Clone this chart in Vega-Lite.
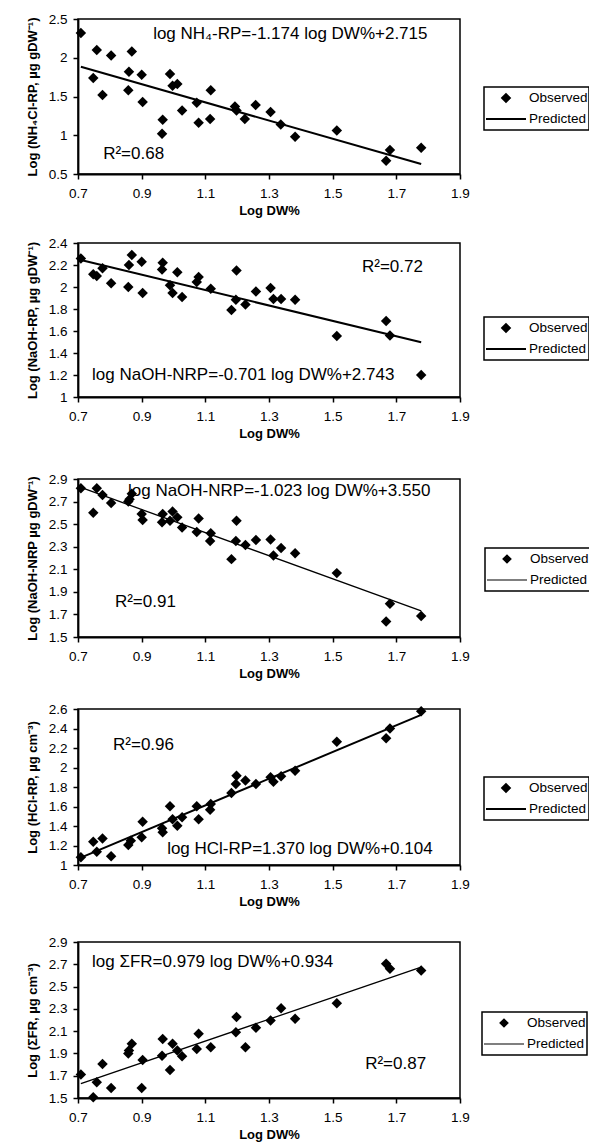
{
  "$schema": "https://vega.github.io/schema/vega-lite/v6.json",
  "background": "white",
  "padding": {"left": 25, "top": 11, "right": 0, "bottom": 0},
  "config": {
    "font": "Liberation Sans",
    "view": {"stroke": "black", "strokeWidth": 1.5},
    "axis": {
      "grid": false, "domainColor": "black", "domainWidth": 1.8, "tickColor": "black", "tickWidth": 1.5, "tickSize": 5,
      "labelColor": "black", "labelFont": "Liberation Sans", "labelFontSize": 13.5, "labelFlush": false, "labelOverlap": false,
      "titleColor": "black", "titleFont": "Liberation Sans", "titleFontSize": 13, "titleFontWeight": "bold"
    },
    "axisX": {"labelPadding": 7, "titlePadding": 5},
    "axisY": {"labelPadding": 6, "titlePadding": 9},
    "legend": {
      "orient": "none", "strokeColor": "black", "strokeWidth": 1.5, "fillColor": "white", "padding": 1,
      "labelFont": "Liberation Sans", "labelFontSize": 13.5, "labelColor": "black", "labelOffset": 2,
      "symbolSize": 1600, "clipHeight": 20, "rowPadding": 1, "symbolFillColor": "black", "symbolStrokeColor": "black", "symbolStrokeWidth": 1.5
    },
    "text": {"font": "Liberation Sans", "fontSize": 17, "color": "black"}
  },
  "spacing": 16,
  "resolve": {"scale": {"shape": "independent"}, "legend": {"shape": "independent"}},
  "vconcat": [
    {
      "width": 382, "height": 155,
      "layer": [
        {
          "data": {"values": [
            {"x":0.709,"y":2.32},{"x":0.748,"y":1.74},{"x":0.759,"y":2.10},{"x":0.777,"y":1.52},{"x":0.804,"y":2.03},{"x":0.858,"y":1.58},{"x":0.860,"y":1.82},{"x":0.869,"y":2.08},{"x":0.900,"y":1.78},{"x":0.903,"y":1.43},{"x":0.964,"y":1.02},{"x":0.966,"y":1.20},{"x":0.989,"y":1.79},{"x":0.997,"y":1.64},{"x":1.012,"y":1.66},{"x":1.027,"y":1.32},{"x":1.073,"y":1.42},{"x":1.079,"y":1.16},{"x":1.115,"y":1.21},{"x":1.117,"y":1.58},{"x":1.193,"y":1.37},{"x":1.198,"y":1.32},{"x":1.224,"y":1.21},{"x":1.258,"y":1.39},{"x":1.305,"y":1.30},{"x":1.337,"y":1.14},{"x":1.382,"y":0.98},{"x":1.513,"y":1.06},{"x":1.668,"y":0.67},{"x":1.680,"y":0.81},{"x":1.778,"y":0.84}
          ]},
          "mark": {"type": "point", "shape": "diamond", "filled": true, "color": "black", "size": 110, "opacity": 1},
          "encoding": {
            "x": {"field": "x", "type": "quantitative", "scale": {"domain": [0.7, 1.9], "nice": false, "zero": false},
                  "axis": {"title": "Log DW%", "labelOverlap": false, "tickCount": 30, "values": [0.7,0.9,1.1,1.3,1.5,1.7,1.9], "labelExpr": "format(datum.value, '.1f')"}},
            "y": {"field": "y", "type": "quantitative", "scale": {"domain": [0.5, 2.5], "nice": false, "zero": false},
                  "axis": {"title": "Log (NH₄Cl-RP, µg gDW⁻¹)", "labelOverlap": false, "tickCount": 30, "values": [0.5,1,1.5,2,2.5], "labelExpr": "'' + datum.value"}}
          }
        },
        {
          "data": {"values": []},
          "mark": {"type": "point", "filled": true, "color": "black", "stroke": "black", "opacity": 1},
          "encoding": {
            "shape": {"datum": "Observed", "type": "nominal", "scale": {"domain": ["Observed", "Predicted"], "range": ["M-0.2,0L0,-0.2L0.2,0L0,0.2Z", "stroke"]},
                      "legend": {"title": null, "legendX": 406, "legendY": 68,
                                 "encoding": {"symbols": {"stroke": {"value": "black"}, "strokeWidth": {"value": 1.8}}}}}
          }
        },
        {
          "data": {"values": [{"x":0.709,"y":1.883},{"x":1.778,"y":0.628}]},
          "mark": {"type": "line", "color": "black", "strokeWidth": 2},
          "encoding": {"x": {"field": "x", "type": "quantitative"}, "y": {"field": "y", "type": "quantitative"}}
        },
        {
          "data": {"values": [{"label": "log NH₄-RP=-1.174 log DW%+2.715"}]},
          "mark": {"type": "text", "align": "left", "baseline": "middle"},
          "encoding": {"text": {"field": "label"}, "x": {"datum": 0.936, "type": "quantitative"}, "y": {"datum": 2.31, "type": "quantitative"}}
        },
        {
          "data": {"values": [{"label": "R²=0.68"}]},
          "mark": {"type": "text", "align": "left", "baseline": "middle"},
          "encoding": {"text": {"field": "label"}, "x": {"datum": 0.779, "type": "quantitative"}, "y": {"datum": 0.762, "type": "quantitative"}}
        }
      ]
    },
    {
      "spacing": 29,
      "resolve": {"scale": {"shape": "independent"}, "legend": {"shape": "independent"}},
      "vconcat": [
        {
          "width": 382, "height": 154,
          "layer": [
            {
              "data": {"values": [
                {"x":0.709,"y":2.26},{"x":0.748,"y":2.115},{"x":0.759,"y":2.10},{"x":0.777,"y":2.17},{"x":0.804,"y":2.035},{"x":0.858,"y":2.00},{"x":0.860,"y":2.20},{"x":0.869,"y":2.29},{"x":0.900,"y":2.23},{"x":0.903,"y":1.945},{"x":0.964,"y":2.16},{"x":0.966,"y":2.22},{"x":0.989,"y":2.015},{"x":0.997,"y":1.945},{"x":1.012,"y":2.135},{"x":1.027,"y":1.91},{"x":1.073,"y":2.045},{"x":1.079,"y":2.09},{"x":1.117,"y":1.985},{"x":1.182,"y":1.79},{"x":1.196,"y":1.885},{"x":1.198,"y":2.15},{"x":1.226,"y":1.84},{"x":1.259,"y":1.96},{"x":1.305,"y":1.99},{"x":1.314,"y":1.89},{"x":1.338,"y":1.89},{"x":1.382,"y":1.885},{"x":1.513,"y":1.555},{"x":1.668,"y":1.69},{"x":1.680,"y":1.56},{"x":1.778,"y":1.20}
              ]},
              "mark": {"type": "point", "shape": "diamond", "filled": true, "color": "black", "size": 110, "opacity": 1},
              "encoding": {
                "x": {"field": "x", "type": "quantitative", "scale": {"domain": [0.7, 1.9], "nice": false, "zero": false},
                      "axis": {"title": "Log DW%", "labelOverlap": false, "tickCount": 30, "values": [0.7,0.9,1.1,1.3,1.5,1.7,1.9], "labelExpr": "format(datum.value, '.1f')"}},
                "y": {"field": "y", "type": "quantitative", "scale": {"domain": [1, 2.4], "nice": false, "zero": false},
                      "axis": {"title": "Log (NaOH-RP, µg gDW⁻¹)", "labelOverlap": false, "tickCount": 30, "values": [1,1.2,1.4,1.6,1.8,2,2.2,2.4], "labelExpr": "'' + datum.value"}}
              }
            },
            {
              "data": {"values": []},
              "mark": {"type": "point", "filled": true, "color": "black", "stroke": "black", "opacity": 1},
              "encoding": {
                "shape": {"datum": "Observed", "type": "nominal", "scale": {"domain": ["Observed", "Predicted"], "range": ["M-0.2,0L0,-0.2L0.2,0L0,0.2Z", "stroke"]},
                          "legend": {"title": null, "legendX": 406, "legendY": 74,
                                     "encoding": {"symbols": {"stroke": {"value": "black"}, "strokeWidth": {"value": 1.8}}}}}
              }
            },
            {
              "data": {"values": [{"x":0.709,"y":2.246},{"x":1.778,"y":1.497}]},
              "mark": {"type": "line", "color": "black", "strokeWidth": 2},
              "encoding": {"x": {"field": "x", "type": "quantitative"}, "y": {"field": "y", "type": "quantitative"}}
            },
            {
              "data": {"values": [{"label": "R²=0.72"}]},
              "mark": {"type": "text", "align": "left", "baseline": "middle"},
              "encoding": {"text": {"field": "label"}, "x": {"datum": 1.592, "type": "quantitative"}, "y": {"datum": 2.179, "type": "quantitative"}}
            },
            {
              "data": {"values": [{"label": "log NaOH-NRP=-0.701 log DW%+2.743"}]},
              "mark": {"type": "text", "align": "left", "baseline": "middle"},
              "encoding": {"text": {"field": "label"}, "x": {"datum": 0.744, "type": "quantitative"}, "y": {"datum": 1.197, "type": "quantitative"}}
            }
          ]
        },
        {
          "spacing": 19,
          "resolve": {"scale": {"shape": "independent"}, "legend": {"shape": "independent"}},
          "vconcat": [
            {
              "width": 382, "height": 158,
              "layer": [
                {
                  "data": {"values": [
                    {"x":0.709,"y":2.817},{"x":0.748,"y":2.60},{"x":0.759,"y":2.817},{"x":0.777,"y":2.758},{"x":0.804,"y":2.688},{"x":0.858,"y":2.70},{"x":0.862,"y":2.72},{"x":0.869,"y":2.77},{"x":0.900,"y":2.59},{"x":0.903,"y":2.537},{"x":0.964,"y":2.517},{"x":0.966,"y":2.59},{"x":0.989,"y":2.53},{"x":0.997,"y":2.611},{"x":1.012,"y":2.56},{"x":1.027,"y":2.47},{"x":1.073,"y":2.43},{"x":1.079,"y":2.55},{"x":1.115,"y":2.35},{"x":1.117,"y":2.42},{"x":1.182,"y":2.19},{"x":1.196,"y":2.35},{"x":1.198,"y":2.53},{"x":1.226,"y":2.316},{"x":1.259,"y":2.36},{"x":1.305,"y":2.363},{"x":1.314,"y":2.222},{"x":1.338,"y":2.288},{"x":1.382,"y":2.243},{"x":1.513,"y":2.066},{"x":1.668,"y":1.638},{"x":1.680,"y":1.795},{"x":1.778,"y":1.686}
                  ]},
                  "mark": {"type": "point", "shape": "diamond", "filled": true, "color": "black", "size": 110, "opacity": 1},
                  "encoding": {
                    "x": {"field": "x", "type": "quantitative", "scale": {"domain": [0.7, 1.9], "nice": false, "zero": false},
                          "axis": {"title": "Log DW%", "labelOverlap": false, "tickCount": 30, "values": [0.7,0.9,1.1,1.3,1.5,1.7,1.9], "labelExpr": "format(datum.value, '.1f')"}},
                    "y": {"field": "y", "type": "quantitative", "scale": {"domain": [1.5, 2.9], "nice": false, "zero": false},
                          "axis": {"title": "Log (NaOH-NRP µg gDW⁻¹)", "labelOverlap": false, "tickCount": 30, "values": [1.5,1.7,1.9,2.1,2.3,2.5,2.7,2.9], "labelExpr": "'' + datum.value"}}
                  }
                },
                {
                  "data": {"values": []},
                  "mark": {"type": "point", "filled": true, "color": "black", "stroke": "black", "opacity": 1},
                  "encoding": {
                    "shape": {"datum": "Observed", "type": "nominal", "scale": {"domain": ["Observed", "Predicted"], "range": ["M-0.2,0L0,-0.2L0.2,0L0,0.2Z", "stroke"]},
                              "legend": {"title": null, "legendX": 407, "legendY": 69,
                                         "encoding": {"symbols": {"stroke": {"value": "black"}, "strokeWidth": {"value": 1.2}}}}}
                  }
                },
                {
                  "data": {"values": [{"x":0.709,"y":2.825},{"x":1.778,"y":1.731}]},
                  "mark": {"type": "line", "color": "black", "strokeWidth": 1.3},
                  "encoding": {"x": {"field": "x", "type": "quantitative"}, "y": {"field": "y", "type": "quantitative"}}
                },
                {
                  "data": {"values": [{"label": "log NaOH-NRP=-1.023 log DW%+3.550"}]},
                  "mark": {"type": "text", "align": "left", "baseline": "middle"},
                  "encoding": {"text": {"field": "label"}, "x": {"datum": 0.857, "type": "quantitative"}, "y": {"datum": 2.794, "type": "quantitative"}}
                },
                {
                  "data": {"values": [{"label": "R²=0.91"}]},
                  "mark": {"type": "text", "align": "left", "baseline": "middle"},
                  "encoding": {"text": {"field": "label"}, "x": {"datum": 0.816, "type": "quantitative"}, "y": {"datum": 1.812, "type": "quantitative"}}
                }
              ]
            },
            {
              "spacing": 24,
              "resolve": {"scale": {"shape": "independent"}, "legend": {"shape": "independent"}},
              "vconcat": [
                {
                  "width": 382, "height": 156,
                  "layer": [
                    {
                      "data": {"values": [
                        {"x":0.709,"y":1.079},{"x":0.748,"y":1.239},{"x":0.759,"y":1.137},{"x":0.777,"y":1.273},{"x":0.804,"y":1.089},{"x":0.858,"y":1.205},{"x":0.866,"y":1.25},{"x":0.900,"y":1.284},{"x":0.903,"y":1.444},{"x":0.964,"y":1.376},{"x":0.966,"y":1.335},{"x":0.989,"y":1.602},{"x":0.997,"y":1.47},{"x":1.012,"y":1.403},{"x":1.027,"y":1.489},{"x":1.073,"y":1.602},{"x":1.079,"y":1.47},{"x":1.115,"y":1.567},{"x":1.117,"y":1.626},{"x":1.182,"y":1.738},{"x":1.196,"y":1.83},{"x":1.198,"y":1.916},{"x":1.226,"y":1.866},{"x":1.259,"y":1.83},{"x":1.305,"y":1.90},{"x":1.314,"y":1.855},{"x":1.338,"y":1.91},{"x":1.382,"y":1.967},{"x":1.513,"y":2.265},{"x":1.668,"y":2.30},{"x":1.680,"y":2.40},{"x":1.778,"y":2.576}
                      ]},
                      "mark": {"type": "point", "shape": "diamond", "filled": true, "color": "black", "size": 110, "opacity": 1},
                      "encoding": {
                        "x": {"field": "x", "type": "quantitative", "scale": {"domain": [0.7, 1.9], "nice": false, "zero": false},
                              "axis": {"title": "Log DW%", "labelOverlap": false, "tickCount": 30, "values": [0.7,0.9,1.1,1.3,1.5,1.7,1.9], "labelExpr": "format(datum.value, '.1f')"}},
                        "y": {"field": "y", "type": "quantitative", "scale": {"domain": [1, 2.6], "nice": false, "zero": false},
                              "axis": {"title": "Log (HCl-RP, µg cm⁻³)", "labelOverlap": false, "tickCount": 30, "values": [1,1.2,1.4,1.6,1.8,2,2.2,2.4,2.6], "labelExpr": "'' + datum.value"}}
                      }
                    },
                    {
                      "data": {"values": []},
                      "mark": {"type": "point", "filled": true, "color": "black", "stroke": "black", "opacity": 1},
                      "encoding": {
                        "shape": {"datum": "Observed", "type": "nominal", "scale": {"domain": ["Observed", "Predicted"], "range": ["M-0.2,0L0,-0.2L0.2,0L0,0.2Z", "stroke"]},
                                  "legend": {"title": null, "legendX": 406, "legendY": 68,
                                             "encoding": {"symbols": {"stroke": {"value": "black"}, "strokeWidth": {"value": 1.8}}}}}
                      }
                    },
                    {
                      "data": {"values": [{"x":0.709,"y":1.075},{"x":1.778,"y":2.540}]},
                      "mark": {"type": "line", "color": "black", "strokeWidth": 2},
                      "encoding": {"x": {"field": "x", "type": "quantitative"}, "y": {"field": "y", "type": "quantitative"}}
                    },
                    {
                      "data": {"values": [{"label": "R²=0.96"}]},
                      "mark": {"type": "text", "align": "left", "baseline": "middle"},
                      "encoding": {"text": {"field": "label"}, "x": {"datum": 0.81, "type": "quantitative"}, "y": {"datum": 2.231, "type": "quantitative"}}
                    },
                    {
                      "data": {"values": [{"label": "log HCl-RP=1.370 log DW%+0.104"}]},
                      "mark": {"type": "text", "align": "left", "baseline": "middle"},
                      "encoding": {"text": {"field": "label"}, "x": {"datum": 0.98, "type": "quantitative"}, "y": {"datum": 1.164, "type": "quantitative"}}
                    }
                  ]
                },
                {
                  "width": 382, "height": 156,
                  "layer": [
                    {
                      "data": {"values": [
                        {"x":0.709,"y":1.71},{"x":0.748,"y":1.506},{"x":0.759,"y":1.641},{"x":0.777,"y":1.806},{"x":0.804,"y":1.59},{"x":0.858,"y":1.90},{"x":0.860,"y":1.926},{"x":0.869,"y":1.986},{"x":0.900,"y":1.59},{"x":0.903,"y":1.842},{"x":0.964,"y":1.88},{"x":0.966,"y":2.03},{"x":0.989,"y":1.752},{"x":0.997,"y":1.986},{"x":1.012,"y":1.926},{"x":1.027,"y":1.875},{"x":1.073,"y":1.94},{"x":1.079,"y":2.076},{"x":1.117,"y":1.956},{"x":1.196,"y":2.09},{"x":1.198,"y":2.226},{"x":1.226,"y":1.956},{"x":1.259,"y":2.13},{"x":1.305,"y":2.196},{"x":1.338,"y":2.306},{"x":1.382,"y":2.211},{"x":1.513,"y":2.35},{"x":1.668,"y":2.705},{"x":1.680,"y":2.66},{"x":1.778,"y":2.645}
                      ]},
                      "mark": {"type": "point", "shape": "diamond", "filled": true, "color": "black", "size": 110, "opacity": 1},
                      "encoding": {
                        "x": {"field": "x", "type": "quantitative", "scale": {"domain": [0.7, 1.9], "nice": false, "zero": false},
                              "axis": {"title": "Log DW%", "labelOverlap": false, "tickCount": 30, "values": [0.7,0.9,1.1,1.3,1.5,1.7,1.9], "labelExpr": "format(datum.value, '.1f')"}},
                        "y": {"field": "y", "type": "quantitative", "scale": {"domain": [1.5, 2.9], "nice": false, "zero": false},
                              "axis": {"title": "Log (ΣFR, µg cm⁻³)", "labelOverlap": false, "tickCount": 30, "values": [1.5,1.7,1.9,2.1,2.3,2.5,2.7,2.9], "labelExpr": "'' + datum.value"}}
                      }
                    },
                    {
                      "data": {"values": []},
                      "mark": {"type": "point", "filled": true, "color": "black", "stroke": "black", "opacity": 1},
                      "encoding": {
                        "shape": {"datum": "Observed", "type": "nominal", "scale": {"domain": ["Observed", "Predicted"], "range": ["M-0.2,0L0,-0.2L0.2,0L0,0.2Z", "stroke"]},
                                  "legend": {"title": null, "legendX": 404, "legendY": 70,
                                             "encoding": {"symbols": {"stroke": {"value": "black"}, "strokeWidth": {"value": 1.2}}}}}
                      }
                    },
                    {
                      "data": {"values": [{"x":0.709,"y":1.628},{"x":1.778,"y":2.675}]},
                      "mark": {"type": "line", "color": "black", "strokeWidth": 1.3},
                      "encoding": {"x": {"field": "x", "type": "quantitative"}, "y": {"field": "y", "type": "quantitative"}}
                    },
                    {
                      "data": {"values": [{"label": "log ΣFR=0.979 log DW%+0.934"}]},
                      "mark": {"type": "text", "align": "left", "baseline": "middle"},
                      "encoding": {"text": {"field": "label"}, "x": {"datum": 0.744, "type": "quantitative"}, "y": {"datum": 2.717, "type": "quantitative"}}
                    },
                    {
                      "data": {"values": [{"label": "R²=0.87"}]},
                      "mark": {"type": "text", "align": "left", "baseline": "middle"},
                      "encoding": {"text": {"field": "label"}, "x": {"datum": 1.602, "type": "quantitative"}, "y": {"datum": 1.809, "type": "quantitative"}}
                    }
                  ]
                }
              ]
            }
          ]
        }
      ]
    }
  ]
}
